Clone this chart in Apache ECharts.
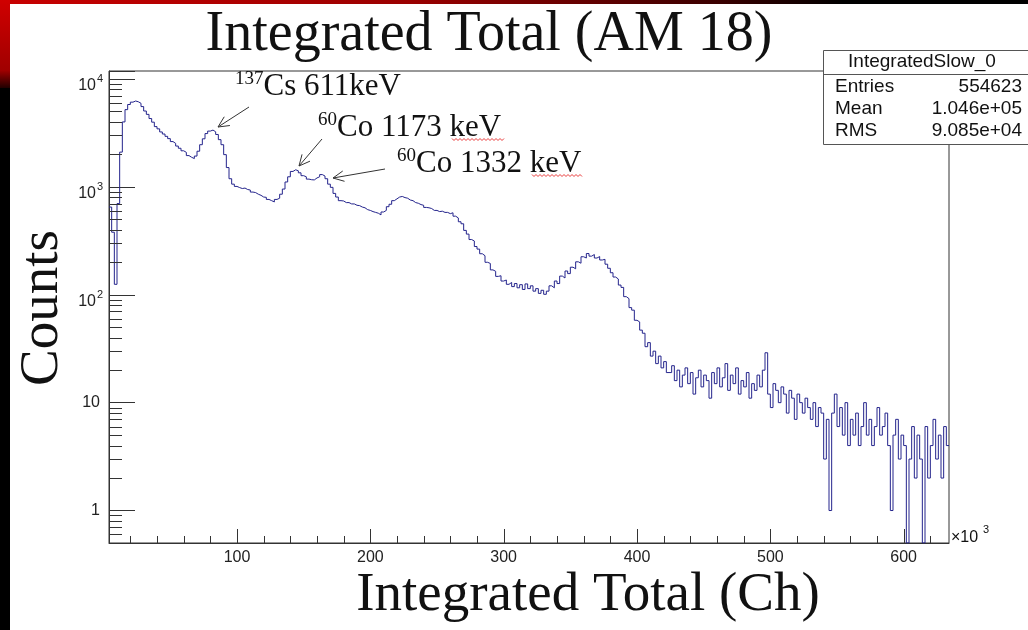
<!DOCTYPE html>
<html>
<head>
<meta charset="utf-8">
<title>Integrated Total (AM 18)</title>
<script src="https://cdn.jsdelivr.net/npm/echarts/dist/echarts.min.js"></script>
<style>
  html, body { margin: 0; padding: 0; background: #000; }
  #wrap { position: relative; width: 1028px; height: 630px; overflow: hidden; background: #000; }
  #redTop { position: absolute; left: 0; top: 0; width: 1028px; height: 4px;
    background: linear-gradient(to right, #c80000 0%, #9a0000 40%, #3a0000 70%, #000 82%); }
  #redLeft { position: absolute; left: 0; top: 0; width: 10px; height: 88px;
    background: linear-gradient(to bottom, #d00000 0%, #a00000 80%, #200000 100%); }
  #sheet { position: absolute; left: 10px; top: 4px; right: 0; bottom: 0; background: #fff; }
  #main { position: absolute; left: 0; top: 0; width: 1028px; height: 630px; }
</style>
</head>
<body>
<div id="wrap">
  <div id="redTop"></div>
  <div id="redLeft"></div>
  <div id="sheet"></div>
  <div id="main"></div>
</div>
<script>
// histogram: counts per bin, x in units of 10^3 ch
const binStart = 4;
const binWidth = 2;
const counts = [
  650, 380, 125, 700, 2100, 4000, 5200, 5800, 6100, 6250,      // 4-24
  6150, 5950, 5550, 5050, 4700, 4300, 3980, 3620, 3450, 3230,  // 24-44
  3090, 2940, 2800, 2630, 2530, 2390, 2280, 2160, 2090, 1950,  // 44-64
  1880, 1830, 1930, 2140, 2460, 2790, 3120, 3290, 3360, 3240,  // 64-84
  3060, 2740, 2460, 1990, 1510, 1190, 1060, 1010, 985, 965,    // 84-104
  975, 945, 935, 895, 885, 855, 835, 805, 800, 765,            // 104-124
  745, 725, 765, 785, 855, 955, 1110, 1240, 1390, 1440,        // 124-144
  1410, 1350, 1270, 1240, 1180, 1165, 1160, 1210, 1240, 1300,  // 144-164
  1260, 1190, 1060, 990, 870, 805, 745, 740, 715, 715,         // 164-184
  695, 695, 675, 670, 650, 640, 615, 605, 590, 580,            // 184-204
  570, 550, 585, 605, 655, 690, 745, 775, 805, 815,            // 204-224
  795, 785, 755, 745, 715, 705, 685, 675, 645, 640,            // 224-244
  630, 605, 605, 590, 595, 580, 580, 565, 575, 535,            // 244-264
  515, 475, 455, 395, 365, 325, 315, 280, 265, 240,            // 264-284
  230, 200, 195, 170, 165, 148, 150, 134, 137, 125,            // 284-304
  130, 119, 127, 116, 124, 112, 126, 114, 121, 108,            // 304-324
  114, 103, 110, 101, 108, 121, 116, 134, 127, 149,            // 324-344
  143, 166, 157, 180, 174, 202, 196, 225, 219, 241,            // 344-364
  228, 236, 219, 226, 210, 213, 192, 176, 160, 146,            // 364-384
  140, 123, 117, 96, 92, 76, 72, 58, 56, 47,                   // 384-404
  44, 33, 36, 27, 30, 23, 27, 21, 24, 19,                      // 404-424
  19, 22, 16, 20, 14, 18, 21, 15, 19, 12,                      // 424-444
  17, 20, 14, 18, 16, 11, 19, 15, 21, 14,                      // 444-464
  17, 23, 13, 18, 15, 21, 12, 16, 14, 19,                      // 464-484
  11, 15, 13, 18, 14, 20, 29, 12, 9, 15,                       // 484-504
  13, 10, 14, 12, 8, 13, 11, 7, 12, 10,                        // 504-524
  8, 11, 9, 7, 10, 6, 9, 8, 3, 7,                              // 524-544
  1, 8, 12, 6, 9, 5, 10, 4, 7, 5,                              // 544-564
  8, 4, 6, 10, 5, 7, 4, 6, 9, 5,                               // 564-584
  6, 8, 4, 1, 5, 7, 3, 5, 4, 0,                                // 584-604
  3, 6, 2, 5, 3, 0, 6, 2, 4, 7,                                // 604-624
  3, 5, 2, 6, 4                                                // 624-634
];

const xRange = [4, 634];
const yRange = [0.5, 11860];
const xTickLabels = [100, 200, 300, 400, 500, 600];
const yTickLabels = [1, 10, 100, 1000, 10000];

const titleText = 'Integrated Total (AM 18)';
const xTitle = 'Integrated Total (Ch)';
const yTitle = 'Counts';
const statsTitle = 'IntegratedSlow_0';
const statsNames = ['Entries', 'Mean', 'RMS'];
const statsValues = ['554623', '1.046e+05', '9.085e+04'];
const noteIsotopes = ['137', '60', '60'];
const noteTexts = ['Cs 611keV', 'Co 1173 keV', 'Co 1332 keV'];

const SERIF = '"Liberation Serif", "Times New Roman", serif';
const SANS = '"Liberation Sans", Arial, Helvetica, sans-serif';
const INK = '#333';

// step line: each bin holds its value until the next edge, empty bins drop to the floor
const stepData = counts.map((c, i) => [binStart + i * binWidth, c > 0 ? c : yRange[0]]);
stepData.push([binStart + counts.length * binWidth, stepData[stepData.length - 1][1]]);

const xTickVals = [];
for (let v = 20; v < xRange[1]; v += 20) xTickVals.push(v);
const yMinorVals = [];
for (let d = 0.1; d < yRange[1]; d *= 10) {
  for (let m = 2; m <= 9; m++) {
    const v = +(m * d).toPrecision(3);
    if (v > yRange[0] && v < yRange[1]) yMinorVals.push(v);
  }
}

function txt(x, y, text, font, align, extra) {
  return Object.assign({
    type: 'text', x: x, y: y, z: 50,
    style: { text: text, x: 0, y: 0, font: font, fill: '#111',
      textAlign: align, align: align, textVerticalAlign: 'middle', verticalAlign: 'middle' }
  }, extra || {});
}

function note(x, y, iso, text) {
  return {
    type: 'text', x: x, y: y, z: 50,
    style: {
      text: '{s|' + iso + '}{m|' + text + '}',
      textAlign: 'left', align: 'left', textVerticalAlign: 'middle', verticalAlign: 'middle',
      fill: '#111',
      rich: {
        s: { font: '19px ' + SERIF, fill: '#111', verticalAlign: 'top', lineHeight: 24 },
        m: { font: '31px ' + SERIF, fill: '#111', verticalAlign: 'middle', lineHeight: 34 }
      }
    }
  };
}

function arrow(x1, y1, x2, y2) {
  const a = Math.atan2(y1 - y2, x1 - x2);
  const h = 12, s = 0.45;
  const st = { stroke: '#333', lineWidth: 1, fill: null };
  return [
    { type: 'line', z: 50, shape: { x1: x1, y1: y1, x2: x2, y2: y2 }, style: st },
    { type: 'polyline', z: 50, shape: { points: [
      [x2 + h * Math.cos(a + s), y2 + h * Math.sin(a + s)], [x2, y2],
      [x2 + h * Math.cos(a - s), y2 + h * Math.sin(a - s)]] }, style: st }
  ];
}

function squiggle(x0, x1, y) {
  const pts = [];
  let up = true;
  for (let x = x0; x <= x1; x += 2) { pts.push([x, y + (up ? -1 : 1)]); up = !up; }
  return { type: 'polyline', z: 50, shape: { points: pts }, style: { stroke: '#e83a3a', lineWidth: 1, fill: null } };
}

const statsBox = [
  { type: 'rect', z: 60, shape: { x: 823.5, y: 50.5, width: 210, height: 94 },
    style: { fill: '#fff', stroke: '#555', lineWidth: 1 } },
  { type: 'line', z: 61, shape: { x1: 823.5, y1: 74.5, x2: 1028, y2: 74.5 }, style: { stroke: '#555', lineWidth: 1 } },
  txt(922, 62, statsTitle, '19px ' + SANS, 'center', { z: 62 })
];
statsNames.forEach((n, i) => {
  statsBox.push(txt(835, 87 + i * 22, n, '19px ' + SANS, 'left', { z: 62 }));
  statsBox.push(txt(1022, 87 + i * 22, statsValues[i], '19px ' + SANS, 'right', { z: 62 }));
});

const notePos = [[235, 87], [318, 127.5], [397, 163.5]];
const graphics = [
  txt(489, 35, titleText, '56px ' + SERIF, 'center'),
  txt(588, 596, xTitle, '55px ' + SERIF, 'center'),
  txt(43, 308, yTitle, '55px ' + SERIF, 'center', { rotation: Math.PI / 2 }),
  txt(951, 538, '\u00d710', '16px ' + SANS, 'left'),
  txt(983, 530, '3', '11px ' + SANS, 'left'),
  squiggle(452, 504, 139.5),
  squiggle(532, 583, 175.5)
].concat(
  noteIsotopes.map((iso, i) => note(notePos[i][0], notePos[i][1], iso, noteTexts[i])),
  arrow(249, 107, 218, 127),
  arrow(322, 139, 299, 166),
  arrow(385, 169, 333, 178),
  statsBox
);

const chart = echarts.init(document.getElementById('main'), null, { renderer: 'canvas' });
chart.setOption({
  animation: false,
  backgroundColor: 'transparent',
  grid: { left: 109, top: 71, width: 840, height: 472, show: true,
    borderColor: INK, borderWidth: 1, backgroundColor: 'transparent' },
  xAxis: {
    type: 'value', min: xRange[0], max: xRange[1], splitNumber: 6,
    axisLine: { show: true, onZero: false, lineStyle: { color: INK } },
    axisTick: { show: false },
    splitLine: { show: false },
    axisLabel: {
      margin: 7, fontSize: 16, fontFamily: SANS, color: '#222',
      formatter: v => (xTickLabels.indexOf(v) >= 0 ? String(v) : '')
    }
  },
  yAxis: {
    type: 'log', logBase: 10, min: yRange[0], max: yRange[1],
    axisLine: { show: true, onZero: false, lineStyle: { color: INK } },
    axisTick: { show: true, inside: true, length: 26, lineStyle: { color: INK } },
    axisLabel: { show: false },
    splitLine: { show: false }
  },
  graphic: graphics,
  series: [
    {
      name: 'IntegratedSlow_0', type: 'line', step: 'end', data: stepData,
      showSymbol: false, symbol: 'none', clip: true,
      lineStyle: { color: '#24248c', width: 1 }
    },
    {
      // x axis ticks, long ones at the labels
      type: 'custom', silent: true, clip: false, z: 4,
      data: xTickVals.map(v => [v, yRange[0]]),
      renderItem: (params, api) => {
        const v = api.value(0);
        const p = api.coord([v, yRange[0]]);
        const x = Math.round(p[0]) + 0.5;
        const len = xTickLabels.indexOf(v) >= 0 ? 14 : 7;
        return { type: 'line', shape: { x1: x, y1: p[1], x2: x, y2: p[1] - len },
          style: { stroke: INK, lineWidth: 1 } };
      }
    },
    {
      // log minor ticks on y
      type: 'custom', silent: true, clip: false, z: 4,
      data: yMinorVals.map(v => [xRange[0], v]),
      renderItem: (params, api) => {
        const p = api.coord([xRange[0], api.value(1)]);
        const y = Math.round(p[1]) + 0.5;
        return { type: 'line', shape: { x1: p[0], y1: y, x2: p[0] + 13, y2: y },
          style: { stroke: INK, lineWidth: 1 } };
      }
    },
    {
      // y labels: 1, 10, 10^2 ...
      type: 'custom', silent: true, clip: false, z: 4,
      data: yTickLabels.map(v => [xRange[0], v]),
      renderItem: (params, api) => {
        const v = api.value(1);
        const p = api.coord([xRange[0], v]);
        const e = Math.round(Math.log10(v));
        const base = { fill: '#222', textAlign: 'right', align: 'right',
          textVerticalAlign: 'middle', verticalAlign: 'middle' };
        if (e < 2) {
          return { type: 'text', style: Object.assign({ text: String(v), x: p[0] - 9, y: p[1], font: '16px ' + SANS }, base) };
        }
        return { type: 'group', children: [
          { type: 'text', style: Object.assign({ text: '10', x: p[0] - 13, y: p[1] + 7, font: '16px ' + SANS }, base) },
          { type: 'text', style: Object.assign({ text: String(e), x: p[0] - 6, y: p[1], font: '11px ' + SANS }, base) }
        ] };
      }
    }
  ]
});
</script>
</body>
</html>
